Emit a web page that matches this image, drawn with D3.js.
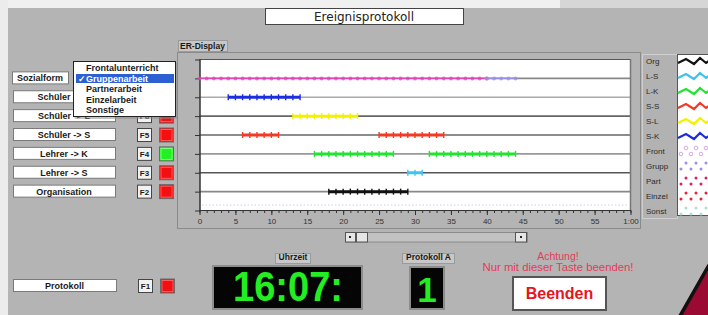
<!DOCTYPE html>
<html lang="de">
<head>
<meta charset="UTF-8">
<title>Ereignisprotokoll</title>
<script src="https://d3js.org/d3.v7.min.js"></script>
<style>
  body { margin: 0; background: #b4b4b4; }
  svg { display: block; font-family: "Liberation Sans", Arial, sans-serif; }
  .ui { font-size: 9px; font-weight: bold; fill: #1a1a1a; }
  .legend-label { font-size: 8px; fill: #2a2a2a; }
  .axis text { font-size: 8px; fill: #333; font-family: "Liberation Sans", Arial, sans-serif; }
  .axis path { display: none; }
  .axis line { stroke: #333; }
</style>
</head>
<body>
<svg id="chart" width="708" height="315"></svg>
<script>
// --- data ---
const rowKeys = ["Sozialform", "S-K", "S-L", "S-S", "L-K", "L-S", "Org"];

// event segments (minutes)
const segRow   = [1, 1, 2, 3, 4, 4, 5, 5, 6, 7];
const segType  = ["Front", "Grupp", "S-K", "S-L", "S-S", "S-S", "L-K", "L-K", "L-S", "Org"];
const segStart = [0, 40, 4, 13, 6, 25, 16, 32, 29, 18];
const segEnd   = [40, 44, 14, 22, 11, 34, 27, 44, 31, 29];

const xMajor = [0, 5, 10, 15, 20, 25, 30, 35, 40, 45, 50, 55, 60];
const xTickLabels = ["0", "5", "10", "15", "20", "25", "30", "35", "40", "45", "50", "55", "1:00"];

const legendNames = ["Org", "L-S", "L-K", "S-S", "S-L", "S-K", "Front", "Grupp", "Part", "Einzel", "Sonst"];

const buttonLabels = ["Schüler -> K", "Schüler -> L", "Schüler -> S", "Lehrer -> K", "Lehrer -> S", "Organisation"];
const buttonKeys   = ["F7", "F6", "F5", "F4", "F3", "F2"];
const buttonOn     = [false, false, false, true, false, false];

const menuItems = ["Frontalunterricht", "Gruppenarbeit", "Partnerarbeit", "Einzelarbeit", "Sonstige"];
const menuSelected = 1;

const clockText = "16:07:";
const protokollNr = "1";

// --- colours ---
const typeColor = {
  "Org": "#111111", "L-S": "#3cc4ec", "L-K": "#22e232", "S-S": "#f23a26",
  "S-L": "#f2f200", "S-K": "#1c2ee0", "Front": "#e244b4", "Grupp": "#9890e6",
  "Part": "#e0205a", "Einzel": "#e02636", "Sonst": "#a6e6c6"
};
const gridColor = ["#666", "#888", "#aaa", "#666", "#666", "#999", "#555", "#888"];

const svg = d3.select("#chart");

// light frame around the window
svg.append("rect").attr("x", 0).attr("y", 0).attr("width", 708).attr("height", 8).attr("fill", "#f0f0f0");
svg.append("rect").attr("x", 560).attr("y", 0).attr("width", 148).attr("height", 8).attr("fill", "#d6d6d6");
svg.append("rect").attr("x", 0).attr("y", 0).attr("width", 8).attr("height", 315).attr("fill", "#ececec");

// title
svg.append("rect").attr("x", 265.5).attr("y", 8.5).attr("width", 198).attr("height", 16)
  .attr("fill", "#fff").attr("stroke", "#444");
svg.append("text").attr("x", 364).attr("y", 20.5).attr("text-anchor", "middle")
  .style("font-family", "'DejaVu Sans', sans-serif").style("font-size", "12px").attr("fill", "#222")
  .text("Ereignisprotokoll");

// --- scales ---
const x = d3.scaleLinear().domain([0, 60]).range([199.5, 630.5]);
const y = d3.scaleLinear().domain([0, 8]).range([59.5, 210.5]);

// chart panel
svg.append("rect").attr("x", 177.5).attr("y", 52.5).attr("width", 463).attr("height", 176)
  .attr("fill", "#b4b4b4").attr("stroke", "#8a8a8a");
svg.append("rect").attr("x", 178.5).attr("y", 40.5).attr("width", 49).attr("height", 11)
  .attr("fill", "#c8c8c8").attr("stroke", "#9a9a9a");
svg.append("text").attr("class", "ui").attr("x", 180).attr("y", 49).style("font-size", "8.5px").text("ER-Display");

// plot area
svg.append("rect").attr("x", 200).attr("y", 59).attr("width", 431).attr("height", 152).attr("fill", "#fff");

// row grid lines
svg.append("g").selectAll("line").data(d3.range(1, 8)).join("line")
  .attr("x1", x(0)).attr("x2", x(60))
  .attr("y1", d => y(d)).attr("y2", d => y(d))
  .attr("stroke", d => gridColor[d]).attr("stroke-width", 1.6);

// faint lavender dotted row near the bottom
svg.append("line").attr("x1", 202).attr("x2", 628).attr("y1", 205).attr("y2", 205)
  .attr("stroke", "#e4dcf0").attr("stroke-width", 1.5).attr("stroke-dasharray", "1.5 2");

// borders
svg.append("line").attr("x1", 200).attr("x2", 631).attr("y1", 59.5).attr("y2", 59.5).attr("stroke", "#555");
svg.append("line").attr("x1", 630.5).attr("x2", 630.5).attr("y1", 59).attr("y2", 211).attr("stroke", "#777").attr("stroke-width", 1.5);
svg.append("line").attr("x1", 200).attr("x2", 200).attr("y1", 59).attr("y2", 211).attr("stroke", "#333").attr("stroke-width", 1.5);

// y axis ticks
svg.append("g").attr("class", "axis").attr("transform", "translate(200,0)")
  .call(d3.axisLeft(y).tickValues(d3.range(0, 9)).tickSize(5).tickFormat(""));

// x axis: minor + major
svg.append("line").attr("x1", 199).attr("x2", 631).attr("y1", 210.5).attr("y2", 210.5).attr("stroke", "#333");
svg.append("g").attr("class", "axis").attr("transform", "translate(0,210.5)")
  .call(d3.axisBottom(x).tickValues(d3.range(0, 61)).tickSize(2.5).tickFormat(""));
svg.append("g").attr("class", "axis").attr("transform", "translate(0,210.5)")
  .call(d3.axisBottom(x).tickValues(xMajor).tickSize(4.5).tickPadding(3.5)
    .tickFormat((d, i) => xTickLabels[i]));

// segments
const segs = segRow.map((r, i) => ({ row: r, type: segType[i], s: segStart[i], e: segEnd[i] }));
const segG = svg.append("g");
segs.forEach(d => {
  const c = typeColor[d.type];
  const dotted = d.row === 1;
  segG.append("line")
    .attr("x1", x(d.s)).attr("x2", x(d.e)).attr("y1", y(d.row)).attr("y2", y(d.row))
    .attr("stroke", c).attr("stroke-width", dotted ? 1.4 : 3);
  const marks = d3.range(Math.ceil(d.s), Math.floor(d.e) + 1);
  if (dotted) {
    segG.selectAll(null).data(marks).join("circle")
      .attr("cx", m => x(m)).attr("cy", y(d.row)).attr("r", 2)
      .attr("fill", c).attr("fill-opacity", 0.75);
  } else {
    segG.selectAll(null).data(marks).join("line")
      .attr("x1", m => x(m)).attr("x2", m => x(m))
      .attr("y1", y(d.row) - 3).attr("y2", y(d.row) + 3)
      .attr("stroke", c).attr("stroke-width", 1.4);
  }
});

// --- legend ---
const ly = d3.scalePoint().domain(legendNames).range([61, 211]);
svg.append("rect").attr("x", 642.5).attr("y", 54.5).attr("width", 35).attr("height", 164)
  .attr("fill", "#b2b2b2").attr("stroke", "#cfcfcf");
svg.append("rect").attr("x", 677.5).attr("y", 54.5).attr("width", 32).attr("height", 161)
  .attr("fill", "#fff").attr("stroke", "#555");
svg.append("g").selectAll("text").data(legendNames).join("text")
  .attr("class", "legend-label").attr("x", 646).attr("y", d => ly(d) + 3).text(d => d);

const zig = d3.line();
legendNames.slice(0, 6).forEach(n => {
  const cy = ly(n);
  svg.append("path")
    .attr("d", zig([[678, cy + 2], [686, cy - 2], [694, cy + 3], [700, cy - 3], [706, cy + 2], [709, cy]]))
    .attr("fill", "none").attr("stroke", typeColor[n]).attr("stroke-width", 2.2);
});
legendNames.slice(6).forEach(n => {
  const cy = ly(n);
  const pts = [[681, cy + 3], [691, cy + 3], [701, cy + 3], [686, cy - 3], [696, cy - 3], [706, cy - 3]];
  svg.append("g").selectAll("circle").data(pts).join("circle")
    .attr("cx", p => p[0]).attr("cy", p => p[1]).attr("r", n === "Front" ? 1.8 : 1.5)
    .attr("fill", n === "Front" ? "none" : typeColor[n])
    .attr("stroke", n === "Front" ? "#dca6ea" : "none");
});

// scrollbar
svg.append("rect").attr("x", 345.5).attr("y", 232.5).attr("width", 182).attr("height", 9.5)
  .attr("fill", "#c2c2c2").attr("stroke", "#8a8a8a");
[[345.5, 10], [356.5, 11], [515.5, 11]].forEach(b => {
  svg.append("rect").attr("x", b[0]).attr("y", 232.5).attr("width", b[1]).attr("height", 9.5)
    .attr("fill", "#e6e6e6").attr("stroke", "#555");
});
svg.append("rect").attr("x", 349).attr("y", 236).attr("width", 2).attr("height", 2).attr("fill", "#222");
svg.append("rect").attr("x", 520).attr("y", 236).attr("width", 2).attr("height", 2).attr("fill", "#222");

// --- left control panel ---
function fkey(xk, yc, label) {
  svg.append("rect").attr("x", xk + 0.5).attr("y", yc - 6.5).attr("width", 14).attr("height", 13)
    .attr("fill", "#f2f2f2").attr("stroke", "#444");
  svg.append("text").attr("class", "ui").attr("x", xk + 7.5).attr("y", yc + 3)
    .attr("text-anchor", "middle").style("font-size", "8px").text(label);
}
function lamp(xk, yc, on) {
  svg.append("rect").attr("x", xk + 0.5).attr("y", yc - 7).attr("width", 14).attr("height", 14)
    .attr("fill", on ? "#22f022" : "#f41010").attr("stroke", "#6a6a6a");
  svg.append("rect").attr("x", xk + 2).attr("y", yc - 5.5).attr("width", 11).attr("height", 11)
    .attr("fill", "none").attr("stroke", on ? "#9cff9c" : "#ff7070").attr("stroke-width", 0.8);
}
function labelBox(x0, w, yc, text) {
  svg.append("rect").attr("x", x0 + 0.5).attr("y", yc - 6.5).attr("width", w).attr("height", 12)
    .attr("fill", "#fff").attr("stroke", "#7a7a7a");
  svg.append("text").attr("class", "ui").attr("x", x0 + w / 2).attr("y", yc + 3)
    .attr("text-anchor", "middle").text(text);
}

labelBox(12, 56, y(1), "Sozialform");
buttonLabels.forEach((b, i) => {
  const yc = y(i + 2);
  labelBox(13, 102, yc, b);
  fkey(137, yc, buttonKeys[i]);
  lamp(159, yc, buttonOn[i]);
});

labelBox(13, 103, 286, "Protokoll");
fkey(138, 286, "F1");
lamp(160, 286, false);

// drop-down menu
svg.append("rect").attr("x", 75).attr("y", 63).attr("width", 103).attr("height", 56).attr("fill", "#8a8a8a").attr("opacity", 0.5);
svg.append("rect").attr("x", 73.5).attr("y", 61.5).attr("width", 102).attr("height", 55)
  .attr("fill", "#fff").attr("stroke", "#222");
const my = d3.scalePoint().domain(menuItems).range([68, 110]);
svg.append("rect").attr("x", 76).attr("y", my(menuItems[menuSelected]) - 4.5).attr("width", 98).attr("height", 9)
  .attr("fill", "#2c5fd2");
svg.append("g").selectAll("text").data(menuItems).join("text")
  .attr("class", "ui").attr("x", 86).attr("y", d => my(d) + 3)
  .style("fill", (d, i) => i === menuSelected ? "#fff" : null)
  .text(d => d);
svg.append("text").attr("x", 78).attr("y", my(menuItems[menuSelected]) + 3.5)
  .style("font-size", "9px").style("font-weight", "bold").style("fill", "#fff").text("\u2713");

// --- bottom: clock, counter, end button ---
function tab(x0, w, text) {
  svg.append("rect").attr("x", x0 + 0.5).attr("y", 253.5).attr("width", w).attr("height", 10)
    .attr("fill", "#c8c8c8").attr("stroke", "#9a9a9a");
  svg.append("text").attr("class", "ui").attr("x", x0 + w / 2 + 0.5).attr("y", 260.3)
    .attr("text-anchor", "middle").style("font-size", "8.5px").text(text);
}
tab(275, 35, "Uhrzeit");
tab(402, 52, "Protokoll A");

svg.append("rect").attr("x", 213).attr("y", 266).attr("width", 149).attr("height", 43)
  .attr("fill", "#050505").attr("stroke", "#8c8c8c").attr("stroke-width", 2);
svg.append("text").attr("x", 233).attr("y", 300.5)
  .attr("textLength", 110).attr("lengthAdjust", "spacingAndGlyphs")
  .style("font-size", "42px").style("font-weight", "bold").style("fill", "#22ee22")
  .text(clockText);

svg.append("rect").attr("x", 410).attr("y", 267).attr("width", 34).attr("height", 42)
  .attr("fill", "#050505").attr("stroke", "#8c8c8c").attr("stroke-width", 2);
svg.append("text").attr("x", 427).attr("y", 301.5).attr("text-anchor", "middle")
  .style("font-size", "35px").style("font-weight", "bold").style("fill", "#22ee22")
  .text(protokollNr);

svg.append("text").attr("x", 558).attr("y", 259.5).attr("text-anchor", "middle")
  .style("font-size", "10.5px").style("fill", "#e8385a").text("Achtung!");
svg.append("text").attr("x", 558).attr("y", 270.5).attr("text-anchor", "middle")
  .attr("textLength", 151).attr("lengthAdjust", "spacingAndGlyphs")
  .style("font-size", "10.5px").style("fill", "#e8385a").text("Nur mit dieser Taste beenden!");

svg.append("rect").attr("x", 513).attr("y", 277).attr("width", 93).attr("height", 33)
  .attr("fill", "#fff").attr("stroke", "#555").attr("stroke-width", 2);
svg.append("text").attr("x", 559.5).attr("y", 299).attr("text-anchor", "middle")
  .style("font-size", "16px").style("font-weight", "bold").style("fill", "#e8141e")
  .text("Beenden");

// decorative corner
svg.append("polygon").attr("points", "679,315 708,264 708,315").attr("fill", "#9a0a32");
svg.append("line").attr("x1", 680).attr("y1", 316).attr("x2", 709).attr("y2", 265)
  .attr("stroke", "#111").attr("stroke-width", 3.5);
</script>
</body>
</html>
